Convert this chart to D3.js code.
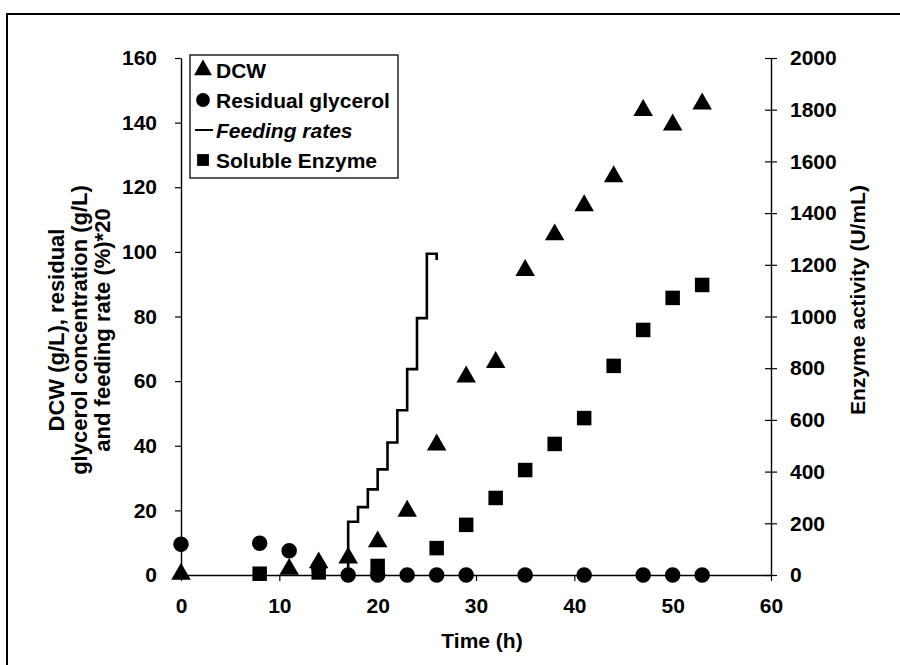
<!DOCTYPE html>
<html>
<head>
<meta charset="utf-8">
<script src="https://cdn.jsdelivr.net/npm/d3@7"></script>
<style>
  html, body { margin: 0; padding: 0; background: #fff; }
  svg { display: block; }
  text { font-family: "Liberation Sans", Arial, Helvetica, sans-serif; font-weight: bold; fill: #000; }
</style>
</head>
<body>
<svg id="chart" width="900" height="665"></svg>
<script>
// ---- data ----
const dcwTime   = [0, 11, 14, 17, 20, 23, 26, 29, 32, 35, 38, 41, 44, 47, 50, 53];
const dcwValue  = [0, 1.5, 3.5, 5, 10, 19.5, 40, 61, 65.5, 94, 105, 114, 123, 143.5, 139, 145.5];

const glyTime   = [0, 8, 11, 14, 17, 20, 23, 26, 29, 35, 41, 47, 50, 53];
const glyValue  = [9.5, 9.8, 7.5, 2.5, 0, 0, 0, 0, 0, 0, 0, 0, 0, 0];

const feedTime  = [17, 17, 18, 19, 20, 21, 22, 23, 24, 25, 26, 26];
const feedValue = [0, 16.5, 21, 26.5, 32.7, 41, 51, 63.7, 79.5, 99.4, 99.4, 97.5];

const enzTime   = [8, 14, 20, 26, 29, 32, 35, 38, 41, 44, 47, 50, 53];
const enzValue  = [5, 10, 35, 104, 194, 298, 406, 507, 607, 809, 948, 1072, 1122];

const xTicks  = [0, 10, 20, 30, 40, 50, 60];
const yLTicks = [0, 20, 40, 60, 80, 100, 120, 140, 160];
const yRTicks = [0, 200, 400, 600, 800, 1000, 1200, 1400, 1600, 1800, 2000];

const legendLabels = ["DCW", "Residual glycerol", "Feeding rates", "Soluble Enzyme"];

// ---- layout ----
const svg = d3.select("#chart");
const x  = d3.scaleLinear().domain([0, 60]).range([181, 771]);
const yL = d3.scaleLinear().domain([0, 160]).range([575, 58]);
const yR = d3.scaleLinear().domain([0, 2000]).range([575, 58]);
const FS = "21px";

// outer frame
svg.append("path").attr("d", "M7,665V14H900")
  .attr("fill", "none").attr("stroke", "#000").attr("stroke-width", 2);

// axes
const xAxis = svg.append("g").attr("transform", `translate(0,${yL(0)})`)
  .call(d3.axisBottom(x).tickValues(xTicks).tickSize(6).tickPadding(17).tickSizeOuter(0));
const yAxisL = svg.append("g").attr("transform", `translate(${x(0)},0)`)
  .call(d3.axisLeft(yL).tickValues(yLTicks).tickSize(6).tickPadding(18).tickSizeOuter(0));
const yAxisR = svg.append("g").attr("transform", `translate(${x(60)},0)`)
  .call(d3.axisRight(yR).tickValues(yRTicks).tickFormat(d3.format("d")).tickSize(6).tickPadding(13).tickSizeOuter(0));
yAxisR.selectAll(".tick line").attr("x1", -6);

[xAxis, yAxisL, yAxisR].forEach(g => {
  g.selectAll("path.domain").attr("stroke", "#000").attr("stroke-width", 1.4);
  g.selectAll(".tick line").attr("stroke", "#000").attr("stroke-width", 1.2);
  g.selectAll(".tick text").style("font-size", FS).style("font-weight", "bold")
    .style("font-family", '"Liberation Sans", Arial, sans-serif').attr("fill", "#000");
});

// axis titles
svg.append("text").attr("x", x(30) + 6).attr("y", 648).attr("text-anchor", "middle")
  .style("font-size", FS).text("Time (h)");

const leftTitle = ["DCW (g/L), residual", "glycerol concentration (g/L)", "and feeding rate (%)*20"];
leftTitle.forEach((t, i) => {
  svg.append("text")
    .attr("transform", `translate(${64 + i * 23},330) rotate(-90)`)
    .attr("text-anchor", "middle").style("font-size", "22px").text(t);
});
svg.append("text")
  .attr("transform", `translate(865,300) rotate(-90)`)
  .attr("text-anchor", "middle").style("font-size", FS).text("Enzyme activity (U/mL)");

// marks
const tri = d3.symbol().type(d3.symbolTriangle).size(165);
const cir = d3.symbol().type(d3.symbolCircle).size(190);
const sq  = d3.symbol().type(d3.symbolSquare).size(210);

// feeding rate line
const feedLine = d3.line().x(d => x(d[0])).y(d => yL(d[1])).curve(d3.curveStepAfter);
svg.append("path").datum(d3.zip(feedTime, feedValue))
  .attr("d", feedLine).attr("fill", "none").attr("stroke", "#000").attr("stroke-width", 2.6);

svg.append("g").selectAll("path").data(d3.zip(enzTime, enzValue)).join("path")
  .attr("d", sq).attr("transform", d => `translate(${x(d[0])},${yR(d[1])})`).attr("fill", "#000");
svg.append("g").selectAll("path").data(d3.zip(glyTime, glyValue)).join("path")
  .attr("d", cir).attr("transform", d => `translate(${x(d[0])},${yL(d[1])})`).attr("fill", "#000");
svg.append("g").selectAll("path").data(d3.zip(dcwTime, dcwValue)).join("path")
  .attr("d", tri).attr("transform", d => `translate(${x(d[0])},${yL(d[1]) - 1})`).attr("fill", "#000");

// legend
const lg = svg.append("g");
lg.append("rect").attr("x", 190).attr("y", 55).attr("width", 208).attr("height", 123)
  .attr("fill", "#fff").attr("stroke", "#000").attr("stroke-width", 1.3);
const rowY = [70, 100, 130, 160];
const markers = [tri, cir, null, sq];
legendLabels.forEach((lab, i) => {
  if (markers[i]) {
    lg.append("path").attr("d", markers[i].size(i === 1 ? 150 : 140)())
      .attr("transform", `translate(203,${rowY[i]})`).attr("fill", "#000");
  } else {
    lg.append("line").attr("x1", 195).attr("x2", 213).attr("y1", rowY[i]).attr("y2", rowY[i])
      .attr("stroke", "#000").attr("stroke-width", 2);
  }
  lg.append("text").attr("x", 216).attr("y", rowY[i]).attr("dy", "0.36em")
    .style("font-size", FS).style("font-style", i === 2 ? "italic" : "normal").text(lab);
});
</script>
</body>
</html>
